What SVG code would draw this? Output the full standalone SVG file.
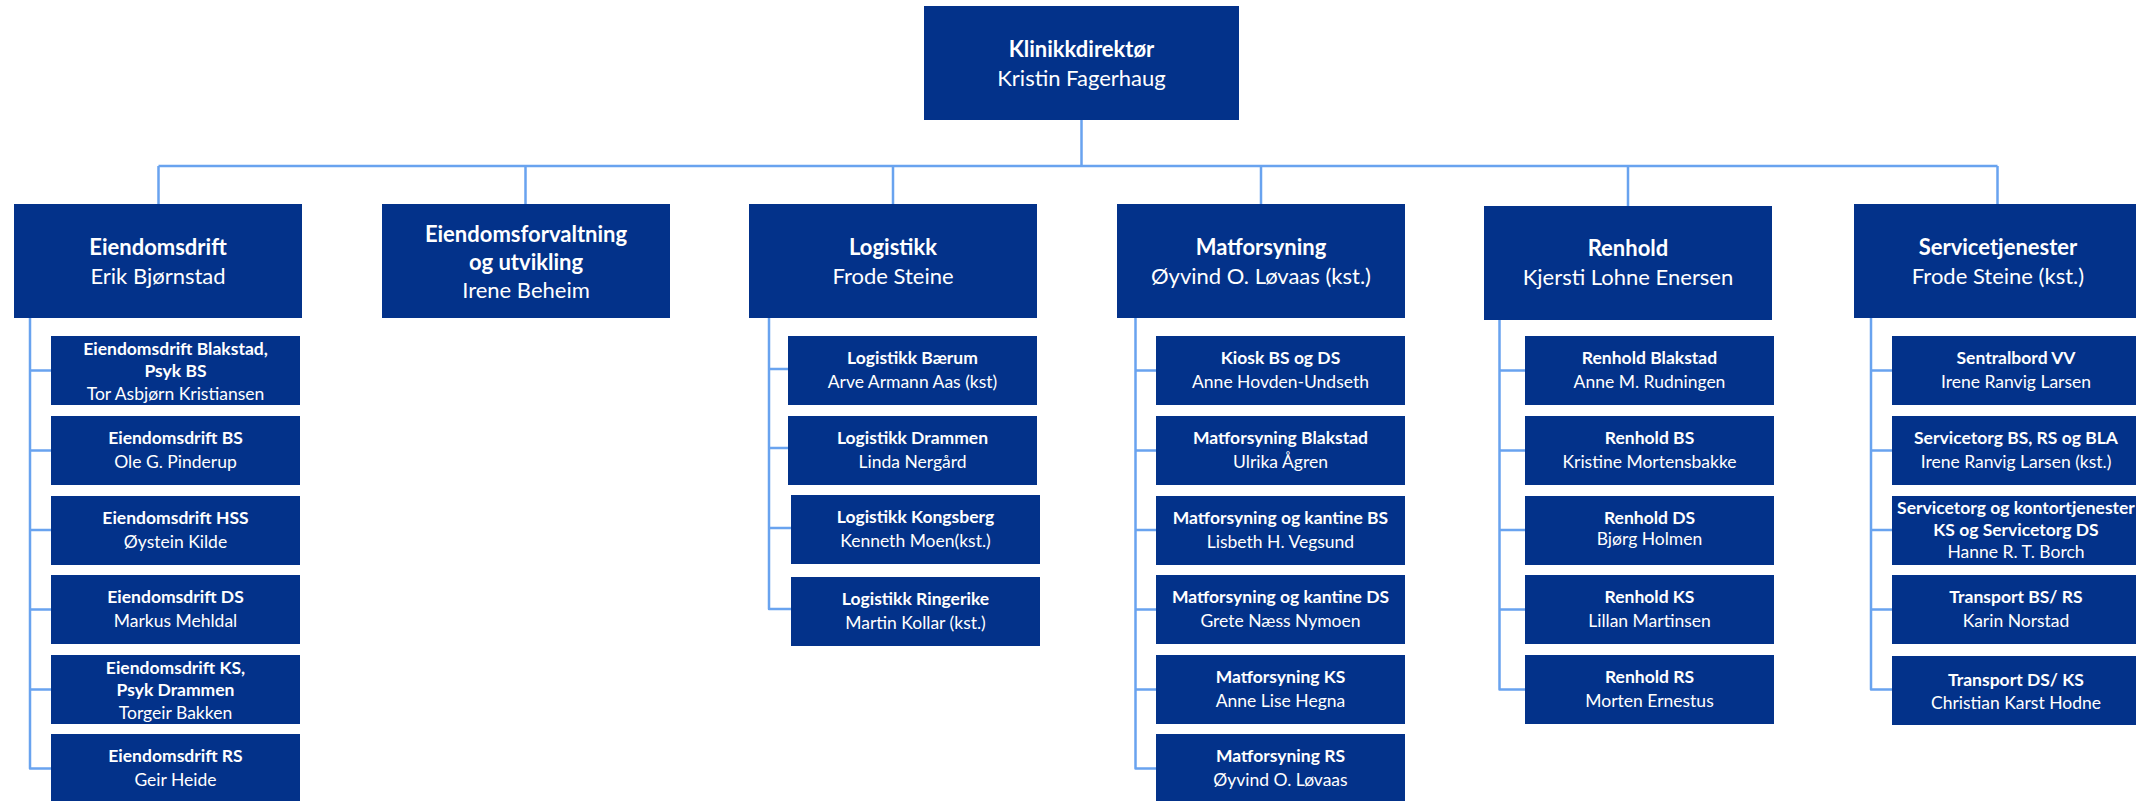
<svg xmlns="http://www.w3.org/2000/svg" width="2136" height="801" viewBox="0 0 2136 801">
<style>
.box{fill:#03328A}
.t{font-family:Lato,"Open Sans","Liberation Sans",sans-serif;fill:#FFFFFF;text-anchor:middle}
.h{font-size:22px}
.c{font-size:17.5px}
.b{font-weight:bold}
.ln{fill:none;stroke:#69A3EF;stroke-width:2.5;stroke-linejoin:round}
</style>
<rect width="2136" height="801" fill="#FFFFFF"/>
<g id="connectors">
<path class="ln" d="M1081.5 120V166M158.5 166H1997.5M158.5 166V204M525.5 166V204M893 166V204M1261 166V204M1628 166V206M1997.5 166V204"/>
<path class="ln" d="M30 318V768.5H51M30 370.5H51M30 450.5H51M30 530H51M30 609.5H51M30 689.5H51"/>
<path class="ln" d="M769 318V609H791M769 369H788M769 448H788M769 528H791"/>
<path class="ln" d="M1135.5 318V768.5H1156M1135.5 370.5H1156M1135.5 450.5H1156M1135.5 530H1156M1135.5 609.5H1156M1135.5 689.5H1156"/>
<path class="ln" d="M1499.5 320V689.5H1525M1499.5 370.5H1525M1499.5 450.5H1525M1499.5 530H1525M1499.5 609.5H1525"/>
<path class="ln" d="M1871 318V689.5H1892M1871 370.5H1892M1871 450.5H1892M1871 530H1892M1871 609.5H1892"/>
</g>
<g id="klinikkdirektor">
<rect class="box" x="924" y="6" width="315" height="114"/>
<text class="t h b" x="1081.5" y="57">Klinikkdirektør</text>
<text class="t h" x="1081.5" y="86">Kristin Fagerhaug</text>
</g>
<g id="eiendomsdrift">
<rect class="box" x="14" y="204" width="288" height="114"/>
<text class="t h b" x="158" y="255">Eiendomsdrift</text>
<text class="t h" x="158" y="284">Erik Bjørnstad</text>
</g>
<g id="eiendomsforvaltning">
<rect class="box" x="382" y="204" width="288" height="114"/>
<text class="t h b" x="526" y="242">Eiendomsforvaltning</text>
<text class="t h b" x="526" y="270">og utvikling</text>
<text class="t h" x="526" y="298">Irene Beheim</text>
</g>
<g id="logistikk">
<rect class="box" x="749" y="204" width="288" height="114"/>
<text class="t h b" x="893" y="255">Logistikk</text>
<text class="t h" x="893" y="284">Frode Steine</text>
</g>
<g id="matforsyning">
<rect class="box" x="1117" y="204" width="288" height="114"/>
<text class="t h b" x="1261" y="255">Matforsyning</text>
<text class="t h" x="1261" y="284">Øyvind O. Løvaas (kst.)</text>
</g>
<g id="renhold">
<rect class="box" x="1484" y="206" width="288" height="114"/>
<text class="t h b" x="1628" y="256">Renhold</text>
<text class="t h" x="1628" y="285">Kjersti Lohne Enersen</text>
</g>
<g id="servicetjenester">
<rect class="box" x="1854" y="204" width="288" height="114"/>
<text class="t h b" x="1998" y="255">Servicetjenester</text>
<text class="t h" x="1998" y="284">Frode Steine (kst.)</text>
</g>
<!-- Eiendomsdrift children -->
<g id="ed-blakstad">
<rect class="box" x="51" y="336" width="249" height="69"/>
<text class="t c b" x="175.5" y="355">Eiendomsdrift Blakstad,</text>
<text class="t c b" x="175.5" y="377">Psyk BS</text>
<text class="t c" x="175.5" y="400">Tor Asbjørn Kristiansen</text>
</g>
<g id="ed-bs">
<rect class="box" x="51" y="416" width="249" height="69"/>
<text class="t c b" x="175.5" y="444">Eiendomsdrift BS</text>
<text class="t c" x="175.5" y="467.5">Ole G. Pinderup</text>
</g>
<g id="ed-hss">
<rect class="box" x="51" y="496" width="249" height="69"/>
<text class="t c b" x="175.5" y="524">Eiendomsdrift HSS</text>
<text class="t c" x="175.5" y="547.5">Øystein Kilde</text>
</g>
<g id="ed-ds">
<rect class="box" x="51" y="575" width="249" height="69"/>
<text class="t c b" x="175.5" y="603">Eiendomsdrift DS</text>
<text class="t c" x="175.5" y="626.5">Markus Mehldal</text>
</g>
<g id="ed-ks">
<rect class="box" x="51" y="655" width="249" height="69"/>
<text class="t c b" x="175.5" y="674">Eiendomsdrift KS,</text>
<text class="t c b" x="175.5" y="696">Psyk Drammen</text>
<text class="t c" x="175.5" y="718.5">Torgeir Bakken</text>
</g>
<g id="ed-rs">
<rect class="box" x="51" y="734" width="249" height="69"/>
<text class="t c b" x="175.5" y="762">Eiendomsdrift RS</text>
<text class="t c" x="175.5" y="785.5">Geir Heide</text>
</g>
<!-- Logistikk children -->
<g id="lg-baerum">
<rect class="box" x="788" y="336" width="249" height="69"/>
<text class="t c b" x="912.5" y="364">Logistikk Bærum</text>
<text class="t c" x="912.5" y="387.5">Arve Armann Aas (kst)</text>
</g>
<g id="lg-drammen">
<rect class="box" x="788" y="416" width="249" height="69"/>
<text class="t c b" x="912.5" y="444">Logistikk Drammen</text>
<text class="t c" x="912.5" y="467.5">Linda Nergård</text>
</g>
<g id="lg-kongsberg">
<rect class="box" x="791" y="495" width="249" height="69"/>
<text class="t c b" x="915.5" y="523">Logistikk Kongsberg</text>
<text class="t c" x="915.5" y="546.5">Kenneth Moen(kst.)</text>
</g>
<g id="lg-ringerike">
<rect class="box" x="791" y="577" width="249" height="69"/>
<text class="t c b" x="915.5" y="605">Logistikk Ringerike</text>
<text class="t c" x="915.5" y="628.5">Martin Kollar (kst.)</text>
</g>
<!-- Matforsyning children -->
<g id="mf-kiosk">
<rect class="box" x="1156" y="336" width="249" height="69"/>
<text class="t c b" x="1280.5" y="364">Kiosk BS og DS</text>
<text class="t c" x="1280.5" y="387.5">Anne Hovden-Undseth</text>
</g>
<g id="mf-blakstad">
<rect class="box" x="1156" y="416" width="249" height="69"/>
<text class="t c b" x="1280.5" y="444">Matforsyning Blakstad</text>
<text class="t c" x="1280.5" y="467.5">Ulrika Ågren</text>
</g>
<g id="mf-kantine-bs">
<rect class="box" x="1156" y="496" width="249" height="69"/>
<text class="t c b" x="1280.5" y="524">Matforsyning og kantine BS</text>
<text class="t c" x="1280.5" y="547.5">Lisbeth H. Vegsund</text>
</g>
<g id="mf-kantine-ds">
<rect class="box" x="1156" y="575" width="249" height="69"/>
<text class="t c b" x="1280.5" y="603">Matforsyning og kantine DS</text>
<text class="t c" x="1280.5" y="626.5">Grete Næss Nymoen</text>
</g>
<g id="mf-ks">
<rect class="box" x="1156" y="655" width="249" height="69"/>
<text class="t c b" x="1280.5" y="683">Matforsyning KS</text>
<text class="t c" x="1280.5" y="706.5">Anne Lise Hegna</text>
</g>
<g id="mf-rs">
<rect class="box" x="1156" y="734" width="249" height="69"/>
<text class="t c b" x="1280.5" y="762">Matforsyning RS</text>
<text class="t c" x="1280.5" y="785.5">Øyvind O. Løvaas</text>
</g>
<!-- Renhold children -->
<g id="rh-blakstad">
<rect class="box" x="1525" y="336" width="249" height="69"/>
<text class="t c b" x="1649.5" y="364">Renhold Blakstad</text>
<text class="t c" x="1649.5" y="387.5">Anne M. Rudningen</text>
</g>
<g id="rh-bs">
<rect class="box" x="1525" y="416" width="249" height="69"/>
<text class="t c b" x="1649.5" y="444">Renhold BS</text>
<text class="t c" x="1649.5" y="467.5">Kristine Mortensbakke</text>
</g>
<g id="rh-ds">
<rect class="box" x="1525" y="496" width="249" height="69"/>
<text class="t c b" x="1649.5" y="524">Renhold DS</text>
<text class="t c" x="1649.5" y="544.5">Bjørg Holmen</text>
</g>
<g id="rh-ks">
<rect class="box" x="1525" y="575" width="249" height="69"/>
<text class="t c b" x="1649.5" y="603">Renhold KS</text>
<text class="t c" x="1649.5" y="626.5">Lillan Martinsen</text>
</g>
<g id="rh-rs">
<rect class="box" x="1525" y="655" width="249" height="69"/>
<text class="t c b" x="1649.5" y="683">Renhold RS</text>
<text class="t c" x="1649.5" y="706.5">Morten Ernestus</text>
</g>
<!-- Servicetjenester children -->
<g id="st-sentralbord">
<rect class="box" x="1892" y="336" width="249" height="69"/>
<text class="t c b" x="2016" y="364">Sentralbord VV</text>
<text class="t c" x="2016" y="387.5">Irene Ranvig Larsen</text>
</g>
<g id="st-servicetorg-bs">
<rect class="box" x="1892" y="416" width="249" height="69"/>
<text class="t c b" x="2016" y="444">Servicetorg BS, RS og BLA</text>
<text class="t c" x="2016" y="467.5">Irene Ranvig Larsen (kst.)</text>
</g>
<g id="st-kontortjenester">
<rect class="box" x="1892" y="496" width="249" height="69"/>
<text class="t c b" x="2016" y="513.5">Servicetorg og kontortjenester</text>
<text class="t c b" x="2016" y="535.5">KS og Servicetorg DS</text>
<text class="t c" x="2016" y="558">Hanne R. T. Borch</text>
</g>
<g id="st-transport-bs">
<rect class="box" x="1892" y="575" width="249" height="69"/>
<text class="t c b" x="2016" y="603">Transport BS/ RS</text>
<text class="t c" x="2016" y="626.5">Karin Norstad</text>
</g>
<g id="st-transport-ds">
<rect class="box" x="1892" y="656" width="249" height="69"/>
<text class="t c b" x="2016" y="686">Transport DS/ KS</text>
<text class="t c" x="2016" y="708.5">Christian Karst Hodne</text>
</g>
</svg>
